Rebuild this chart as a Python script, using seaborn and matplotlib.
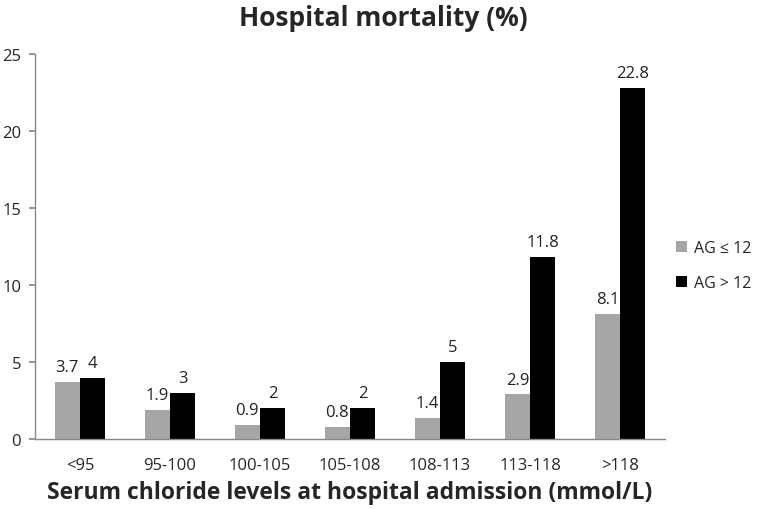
import matplotlib
matplotlib.use("Agg")
import matplotlib.pyplot as plt
import seaborn as sns
import pandas as pd

categories = ["<95", "95-100", "100-105", "105-108", "108-113", "113-118", ">118"]
ag_low = [3.7, 1.9, 0.9, 0.8, 1.4, 2.9, 8.1]
ag_high = [4, 3, 2, 2, 5, 11.8, 22.8]
series_names = ["AG \u2264 12", "AG > 12"]
y_ticks = [0, 5, 10, 15, 20, 25]

df = pd.DataFrame({
    "cat": categories * 2,
    "val": ag_low + ag_high,
    "grp": [series_names[0]] * len(categories) + [series_names[1]] * len(categories),
})

sns.set_theme(style="white")
plt.rcParams["font.family"] = ["Open Sans", "DejaVu Sans"]

fig = plt.figure(figsize=(7.6, 5.1), dpi=100)
ax = fig.add_axes([0.046, 0.137, 0.829, 0.755])

sns.barplot(data=df, x="cat", y="val", hue="grp", order=categories,
            hue_order=series_names, palette=["#A6A6A6", "#000000"],
            width=0.56, gap=0, ax=ax, errorbar=None, saturation=1,
            linewidth=0, edgecolor="none")

for cont in ax.containers:
    ax.bar_label(cont, labels=[f"{v:g}" for v in cont.datavalues],
                 padding=5, fontsize=12, color="#222222")

ax.set_ylim(0, 25)
ax.set_yticks(y_ticks)
ax.set_xlim(-0.5, len(categories) - 0.5)
ax.tick_params(axis="y", labelsize=12, length=4, color="#888888", direction="out", pad=6, left=True)
ax.tick_params(axis="x", labelsize=12, length=0, pad=13)
for s in ["top", "right"]:
    ax.spines[s].set_visible(False)
for s in ["left", "bottom"]:
    ax.spines[s].set_color("#888888")
    ax.spines[s].set_linewidth(1)

ax.set_ylabel("")
ax.set_xlabel("Serum chloride levels at hospital admission (mmol/L)",
              fontsize=16.5, fontweight="bold", labelpad=5)
fig.suptitle("Hospital mortality (%)", fontsize=19, fontweight="bold", x=0.505, y=0.99)

ax.legend(loc="center left", bbox_to_anchor=(1.0, 0.45), frameon=False,
          fontsize=11.5, handlelength=0.7, handleheight=0.7, handletextpad=0.4,
          labelspacing=1.2, borderaxespad=0.3)

fig.savefig("out.png", dpi=100)
